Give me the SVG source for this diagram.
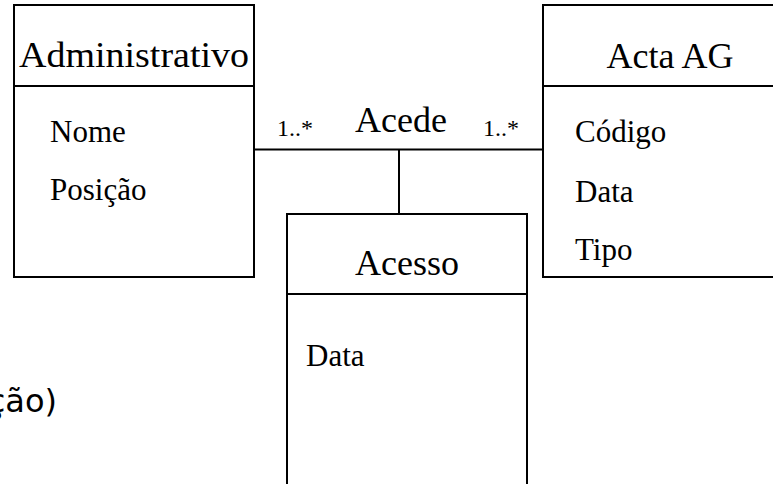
<svg xmlns="http://www.w3.org/2000/svg" width="773" height="484" viewBox="0 0 773 484">
  <style>
    .box { fill: #ffffff; stroke: #000000; stroke-width: 2; }
    .sep { stroke: #000000; stroke-width: 2; }
    .link { stroke: #000000; stroke-width: 2; fill: none; }
    .title { font-family: "Liberation Serif", "Times New Roman", serif; font-size: 36px; fill: #000000; }
    .attr { font-family: "Liberation Serif", "Times New Roman", serif; font-size: 31px; fill: #000000; }
    .mult { font-family: "Liberation Serif", "Times New Roman", serif; font-size: 24px; fill: #000000; }
    .note { font-family: "DejaVu Sans", sans-serif; font-size: 32px; fill: #000000; }
  </style>
  <rect width="773" height="484" fill="#ffffff"/>

  <!-- association lines -->
  <g id="connectors">
    <line class="link" x1="254" y1="149.5" x2="543" y2="149.5"/>
    <line class="link" x1="399" y1="149.5" x2="399" y2="214"/>
    <text class="title" x="401" y="132" text-anchor="middle">Acede</text>
    <text class="mult" x="277" y="136">1..*</text>
    <text class="mult" x="483" y="136">1..*</text>
  </g>

  <g id="administrativo">
    <rect class="box" x="14" y="5" width="240" height="272"/>
    <line class="sep" x1="14" y1="86" x2="254" y2="86"/>
    <text class="title" x="134" y="67" text-anchor="middle" textLength="230" lengthAdjust="spacingAndGlyphs">Administrativo</text>
    <text class="attr" x="50" y="142">Nome</text>
    <text class="attr" x="50" y="200">Posição</text>
  </g>

  <g id="acta-ag">
    <rect class="box" x="543" y="5" width="240" height="272"/>
    <line class="sep" x1="543" y1="86" x2="783" y2="86"/>
    <text class="title" x="670" y="68" text-anchor="middle">Acta AG</text>
    <text class="attr" x="575" y="142">Código</text>
    <text class="attr" x="575" y="202">Data</text>
    <text class="attr" x="575" y="260">Tipo</text>
  </g>

  <g id="acesso">
    <rect class="box" x="287" y="214" width="240" height="290"/>
    <line class="sep" x1="287" y1="294" x2="527" y2="294"/>
    <text class="title" x="407" y="275" text-anchor="middle">Acesso</text>
    <text class="attr" x="306" y="366">Data</text>
  </g>

  <text class="note" x="57" y="412" text-anchor="end">ção)</text>
</svg>
